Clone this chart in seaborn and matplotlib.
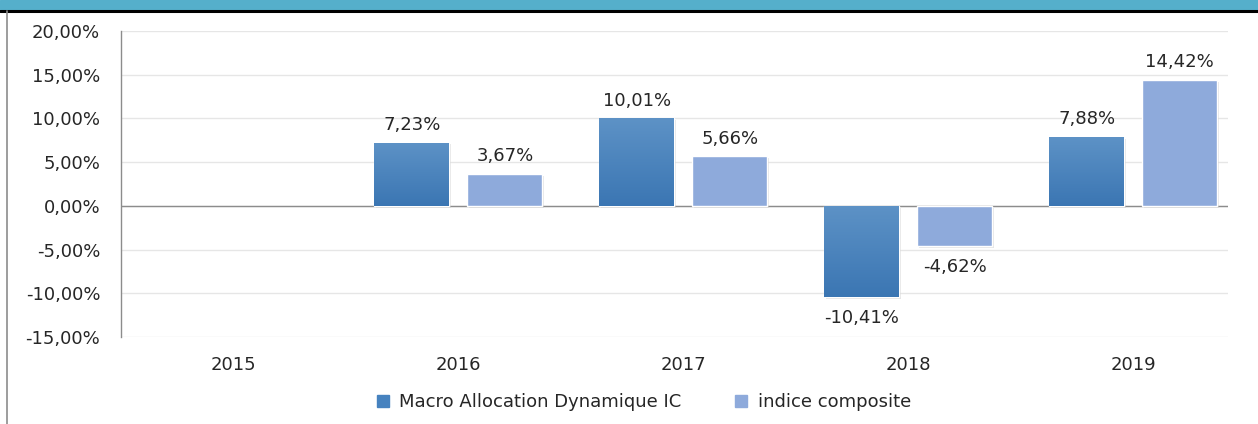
import matplotlib

matplotlib.use("Agg")
import numpy as np
import pandas as pd
import matplotlib.pyplot as plt
import seaborn as sns
from matplotlib.colors import LinearSegmentedColormap
from matplotlib.lines import Line2D
from matplotlib.patches import Rectangle

# %% data
years = ["2015", "2016", "2017", "2018", "2019"]
fund = [np.nan, 7.23, 10.01, -10.41, 7.88]
index = [np.nan, 3.67, 5.66, -4.62, 14.42]
series_names = ["Macro Allocation Dynamique IC", "indice composite"]
yticks = [-15, -10, -5, 0, 5, 10, 15, 20]

df = pd.DataFrame(
    {
        "year": years * 2,
        "value": fund + index,
        "series": [series_names[0]] * len(years) + [series_names[1]] * len(years),
    }
)

# %% style
sns.set_theme(style="white")
plt.rcParams["font.family"] = ["DejaVu Sans"]

dark = "#4682BF"
light = "#8EAADB"
text_col = "#262626"
fs = 13

fig = plt.figure(figsize=(12.58, 4.24), dpi=100)
ax = fig.add_axes([0.0962, 0.2052, 0.8798, 0.7217])

sns.barplot(
    data=df,
    x="year",
    y="value",
    hue="series",
    palette=[dark, light],
    width=0.827,
    gap=0.194,
    ax=ax,
    legend=False,
    saturation=1,
)

bars = [b for b in ax.patches if not np.isnan(b.get_height())]

# gradient on the dark bars, soft shadow on all
grad = np.linspace(0, 1, 100).reshape(-1, 1)
cmap = LinearSegmentedColormap.from_list("g", ["#3B76B3", "#5D92C6"])
for bar in bars:
    h = bar.get_height()
    x0, w = bar.get_x(), bar.get_width()
    y0, y1 = min(0, h), max(0, h)
    ax.add_patch(Rectangle((x0 + 0.008, y0 - 0.2), w, y1 - y0, color="#c8c8c8",
                           alpha=0.45, zorder=1.5, lw=0))
    bar.set_zorder(2)
    if bar.get_facecolor()[2] < 0.8:
        im = ax.imshow(grad, extent=[x0, x0 + w, y0, y1], cmap=cmap,
                       aspect="auto", origin="lower", zorder=2.1)
        im.set_clip_path(bar)

# value labels
for bar in bars:
    h = bar.get_height()
    label = f"{h:.2f}%".replace(".", ",")
    cx = bar.get_x() + bar.get_width() / 2
    if h >= 0:
        ax.text(cx, h + 1.0, label, ha="center", va="bottom", fontsize=fs, color=text_col)
    else:
        ax.text(cx, h - 1.4, label, ha="center", va="top", fontsize=fs, color=text_col)

ax.set_xlim(-0.5, 4.42)
ax.set_ylim(-15, 20)
ax.set_yticks(yticks)
ax.set_yticklabels([f"{v:.2f}%".replace(".", ",") for v in yticks])
ax.tick_params(axis="y", pad=15, labelsize=fs, colors=text_col, length=0)
ax.tick_params(axis="x", pad=14, labelsize=fs, colors=text_col, length=0)
ax.set_xlabel("")
ax.set_ylabel("")

for v in yticks:
    ax.axhline(v, color="#e6e6e6", lw=1, zorder=0)
ax.axhline(0, color="#8c8c8c", lw=1, zorder=1)
for s in ["top", "right", "bottom"]:
    ax.spines[s].set_visible(False)
ax.spines["left"].set_color("#8c8c8c")
ax.spines["left"].set_linewidth(1)

# legend
handles = [
    Line2D([], [], marker="s", ls="", color=dark, markersize=9),
    Line2D([], [], marker="s", ls="", color=light, markersize=9),
]
fig.legend(handles, series_names, loc="center", bbox_to_anchor=(0.51, 0.052),
           ncol=2, frameon=False, fontsize=fs, handletextpad=0.3,
           handlelength=1.2, columnspacing=2.7, labelcolor=text_col)

# frame decorations
fig.patches.append(Rectangle((0, 1 - 9.5 / 424), 1, 9.5 / 424, transform=fig.transFigure,
                             color="#55AFCB", zorder=0))
fig.lines.append(Line2D([0, 1], [1 - 10.5 / 424] * 2, transform=fig.transFigure,
                        color="black", lw=2.2))
fig.lines.append(Line2D([7 / 1258] * 2, [0, 1 - 11 / 424], transform=fig.transFigure,
                        color="#8c8c8c", lw=1.2))

fig.savefig("out.png", dpi=100)
